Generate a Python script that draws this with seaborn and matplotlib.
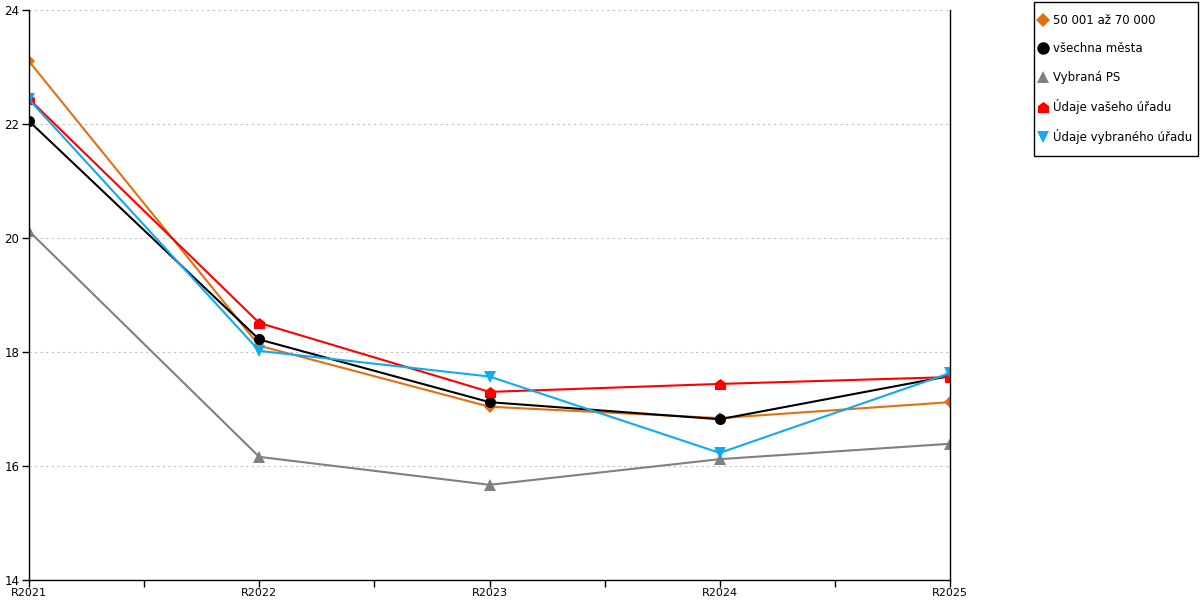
import matplotlib
matplotlib.use("Agg")
import matplotlib.pyplot as plt
from matplotlib.lines import Line2D
from matplotlib.patches import Rectangle
from matplotlib.path import Path
from matplotlib.ticker import FixedLocator
import seaborn as sns
import pandas as pd

years = ["R2021", "R2022", "R2023", "R2024", "R2025"]
series_names = ["50 001 až 70 000", "všechna města", "Vybraná PS",
                "Údaje vašeho úřadu", "Údaje vybraného úřadu"]
v_group = [23.10, 18.11, 17.04, 16.84, 17.12]
v_all = [22.05, 18.22, 17.12, 16.82, 17.58]
v_ps = [20.12, 16.16, 15.67, 16.12, 16.39]
v_yours = [22.44, 18.51, 17.30, 17.44, 17.56]
v_selected = [22.43, 18.02, 17.57, 16.23, 17.63]
values = [v_group, v_all, v_ps, v_yours, v_selected]

colors = ["#E07010", "#000000", "#808080", "#FF0000", "#10AAEE"]
house = Path([(-1, -1), (1, -1), (1, 0.25), (0, 1), (-1, 0.25), (-1, -1)],
             [Path.MOVETO, Path.LINETO, Path.LINETO, Path.LINETO, Path.LINETO, Path.CLOSEPOLY])
markers = ["D", "o", "^", house, "v"]
msizes = [6, 8, 8, 8, 8]
leg_sizes = [7, 9, 9, 8, 9]

rows = []
for name, vals in zip(series_names, values):
    for y, v in zip(years, vals):
        rows.append({"rok": y, "hodnota": v, "serie": name})
df = pd.DataFrame(rows)

sns.set_style("white")
plt.rcParams["font.family"] = ["DejaVu Sans"]
plt.rcParams["text.color"] = "black"
plt.rcParams["xtick.color"] = "black"
plt.rcParams["ytick.color"] = "black"

fig = plt.figure(figsize=(12, 6), dpi=100)
ax = fig.add_axes([29 / 1200, 20 / 600, 921 / 1200, 570 / 600])

for name, col, mk, ms in zip(series_names, colors, markers, msizes):
    sub = df[df["serie"] == name]
    sns.lineplot(data=sub, x="rok", y="hodnota", ax=ax, color=col, marker=mk,
                 markersize=ms, markeredgewidth=0, linewidth=1.5, legend=False, sort=False)

ax.set_xlim(0, 4)
ax.set_ylim(14, 24)
ax.set_yticks([14, 16, 18, 20, 22, 24])
ax.set_xticks(range(5))
ax.set_xticklabels(years)
ax.xaxis.set_minor_locator(FixedLocator([0.5, 1.5, 2.5, 3.5]))
ax.set_xlabel("")
ax.set_ylabel("")
ax.yaxis.grid(True, color="#C0C0C0", linestyle=(0, (2, 3)), linewidth=0.8)
ax.xaxis.grid(False)
for s in ["left", "bottom", "right"]:
    ax.spines[s].set_visible(True)
    ax.spines[s].set_color("black")
    ax.spines[s].set_linewidth(1.0)
ax.spines["top"].set_visible(False)
ax.tick_params(axis="both", which="both", direction="out", length=5, width=1,
               color="black", labelcolor="black", labelsize=8.5, pad=2,
               bottom=True, left=True)
ax.tick_params(axis="x", which="major", pad=0.5, labelsize=8)

# legend box
fig.patches.append(Rectangle((1034 / 1200, 1 - 156 / 600), 164 / 1200, 154 / 600,
                             transform=fig.transFigure, facecolor="white",
                             edgecolor="black", linewidth=1.0, zorder=0))
handles = [Line2D([], [], color=c, marker=m, markersize=ms, linestyle="none",
                  markeredgewidth=0) for c, m, ms in zip(colors, markers, leg_sizes)]
leg = fig.legend(handles, series_names, loc="upper left",
                 bbox_to_anchor=(1038 / 1200, 1 - 14 / 600), frameon=False,
                 fontsize=8.5, labelspacing=1.3, handlelength=0.8,
                 handletextpad=0.5, borderpad=0, borderaxespad=0,
                 labelcolor="black")

fig.savefig("out.png", dpi=100)
